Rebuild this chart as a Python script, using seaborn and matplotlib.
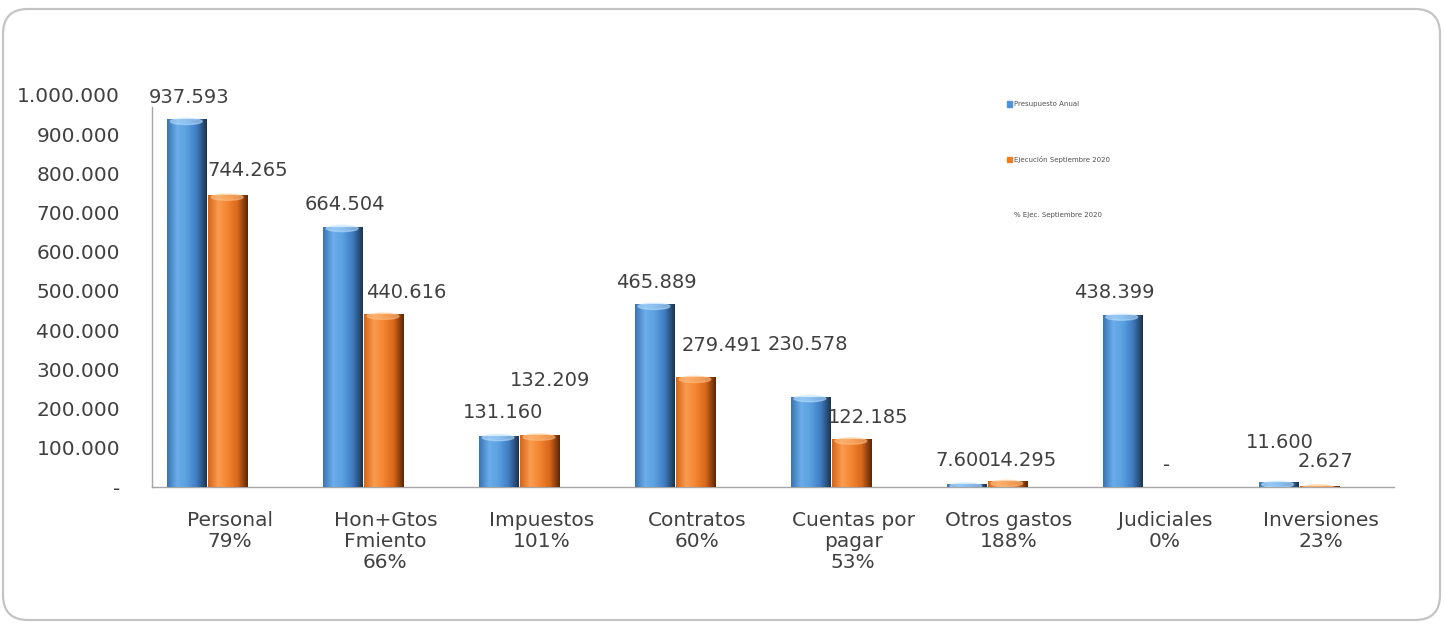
import numpy as np
import pandas as pd
import matplotlib.pyplot as plt
import matplotlib as mpl
import seaborn as sns
from matplotlib.patches import FancyBboxPatch, Patch
from matplotlib.colors import LinearSegmentedColormap
from matplotlib.transforms import ScaledTranslation

# datos del grafico
categorias = ['Personal', 'Hon+Gtos\nFmiento', 'Impuestos', 'Contratos',
              'Cuentas por\npagar', 'Otros gastos', 'Judiciales', 'Inversiones']
presupuesto = [937593, 664504, 131160, 465889, 230578, 7600, 438399, 11600]
ejecucion = [744265, 440616, 132209, 279491, 122185, 14295, 0, 2627]
porcentaje = ['79%', '66%', '101%', '60%', '53%', '188%', '0%', '23%']
series = ['Presupuesto Anual', 'Ejecución Septiembre 2020', '% Ejec. Septiembre 2020']

# desplazamiento de las etiquetas de valor respecto al tope de la barra (px)
off_pres = [(2, 22), (2, 22), (4, 23), (2, 22), (-3, 52), (-3, 24), (-8, 23), (1, 40)]
off_ejec = [(20, 25), (22, 22), (10, 55), (26, 32), (17, 22), (15, 21), (3, 22), (6, 24)]

def fmt(v):
    if v == 0:
        return '-'
    return f'{v:,.0f}'.replace(',', '.')

sns.set_theme(style='white')
plt.rcParams['font.family'] = ['DejaVu Sans']

df = pd.DataFrame({
    'categoria': categorias * 2,
    'serie': [series[0]] * len(categorias) + [series[1]] * len(categorias),
    'valor': presupuesto + ejecucion,
})

fig = plt.figure(figsize=(14.45, 6.26), dpi=100)
ax = fig.add_axes([152 / 1445, 1 - 487 / 626, (1394 - 152) / 1445, (487 - 95) / 626])

azul = '#4f93d8'
naranja = '#ef7b24'
sns.barplot(data=df, x='categoria', y='valor', hue='serie', palette=[azul, naranja],
            width=0.525, gap=0.03, ax=ax, legend=False, saturation=1)

# efecto cilindro
cmaps = [
    LinearSegmentedColormap.from_list('b', ['#3a74b4', '#6cadea', '#5a9fe0', '#3f7cc2', '#1c3550']),
    LinearSegmentedColormap.from_list('o', ['#d5661a', '#fa9c50', '#f28430', '#d8671a', '#5e2706']),
]
grad = np.linspace(0, 1, 64).reshape(1, -1)
n = len(categorias)
for i, p in enumerate(list(ax.patches)):
    h = p.get_height()
    if h <= 0:
        continue
    x0, w = p.get_x(), p.get_width()
    p.set_edgecolor('none')
    im = ax.imshow(grad, cmap=cmaps[i // n], extent=[x0, x0 + w, 0, h],
                   aspect='auto', zorder=3, interpolation='bilinear')
    im.set_clip_path(p)
    cap = mpl.patches.Ellipse((x0 + w * 0.48, h - 5000), w * 0.8, 16000,
                              color='#bfe3ff' if i < n else '#ffc48a', alpha=0.5, zorder=4)
    ax.add_patch(cap)

ax.set_xlim(-0.356, 7.61)
ax.set_ylim(0, 1000000)

# etiquetas de valor
for i in range(n):
    for vals, offs, k in ((presupuesto, off_pres, 0), (ejecucion, off_ejec, 1)):
        p = ax.patches[k * n + i]
        xc = p.get_x() + p.get_width() / 2
        ax.annotate(fmt(vals[i]), (xc, vals[i]), xytext=(offs[i][0] * 0.72, offs[i][1] * 0.72),
                    textcoords='offset points', ha='center', va='center',
                    fontsize=14, color='#404040', zorder=6)

yt = np.arange(0, 1000001, 100000)
ax.set_yticks(yt)
ax.set_yticklabels([fmt(v) for v in yt], fontsize=14.5, color='#404040')
ax.tick_params(axis='y', length=0, pad=23)
ax.set_xticks(range(n))
ax.set_xticklabels([f'{c}\n{p}' for c, p in zip(categorias, porcentaje)],
                   fontsize=14.5, color='#404040', linespacing=1.15)
ax.tick_params(axis='x', length=0, pad=17)
for lab in ax.get_xticklabels():
    lab.set_transform(lab.get_transform() + ScaledTranslation(0.22, 0, fig.dpi_scale_trans))
ax.set_xlabel('')
ax.set_ylabel('')

for s in ['top', 'right']:
    ax.spines[s].set_visible(False)
for s in ['left', 'bottom']:
    ax.spines[s].set_color('#a6a6a6')
    ax.spines[s].set_linewidth(1)
ax.spines['left'].set_bounds(0, 970000)

handles = [Patch(color=azul), Patch(color=naranja), Patch(color='white')]
leg = ax.legend(handles, series, loc='upper left', bbox_to_anchor=(0.683, 1.0),
                frameon=False, fontsize=5, labelspacing=7.0, handlelength=0.8,
                handleheight=0.8, handletextpad=0.3)
for t in leg.get_texts():
    t.set_color('#505050')

# marco redondeado
marco = FancyBboxPatch((3, 6), 1437, 611, boxstyle='round,pad=0,rounding_size=25',
                       transform=None, facecolor='none', edgecolor='#c4c4c4', linewidth=1.6)
fig.patches.append(marco)

fig.savefig('out.png', dpi=100)
